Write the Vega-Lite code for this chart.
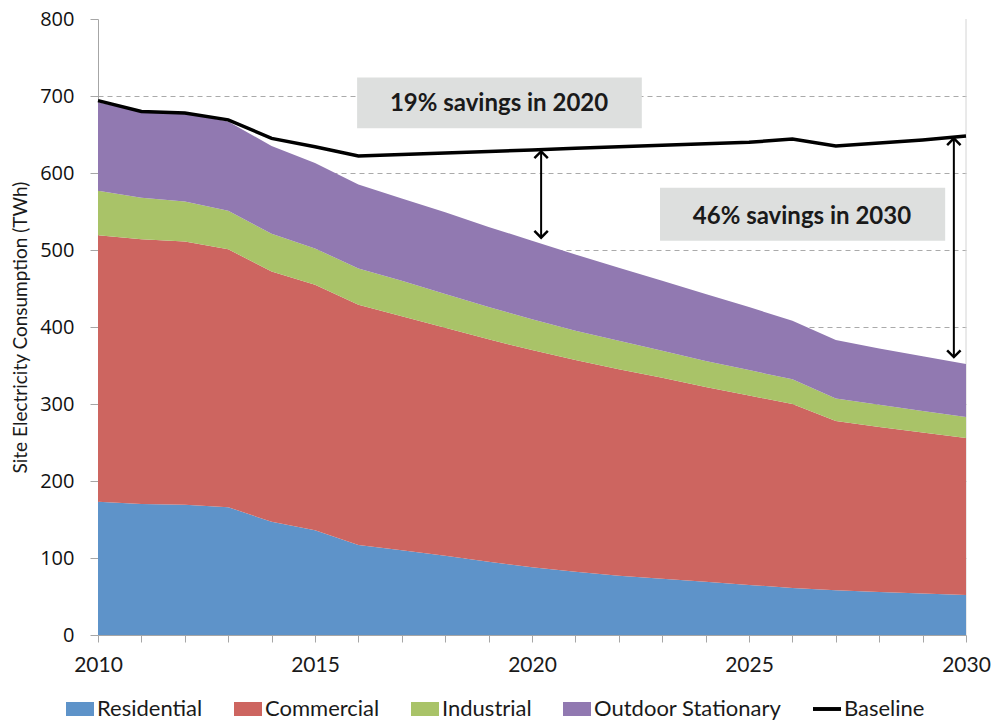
{
  "$schema": "https://vega.github.io/schema/vega-lite/v6.json",
  "autosize": {"type": "none"},
  "width": 868,
  "height": 616,
  "padding": {"left": 98, "top": 19, "right": 26, "bottom": 88},
  "background": "white",
  "config": {
    "view": {"stroke": null},
    "font": "Lato"
  },
  "datasets": {
    "energy": [
      {"year": 2010, "Residential": 173, "Commercial": 346, "Industrial": 58, "Outdoor Stationary": 115, "Baseline": 694},
      {"year": 2011, "Residential": 170, "Commercial": 344, "Industrial": 54, "Outdoor Stationary": 112, "Baseline": 680},
      {"year": 2012, "Residential": 169, "Commercial": 342, "Industrial": 52, "Outdoor Stationary": 115, "Baseline": 678},
      {"year": 2013, "Residential": 166, "Commercial": 335, "Industrial": 50, "Outdoor Stationary": 116, "Baseline": 669},
      {"year": 2014, "Residential": 147, "Commercial": 325, "Industrial": 49, "Outdoor Stationary": 114, "Baseline": 645},
      {"year": 2015, "Residential": 136, "Commercial": 319, "Industrial": 47, "Outdoor Stationary": 111, "Baseline": 634},
      {"year": 2016, "Residential": 117, "Commercial": 312, "Industrial": 47, "Outdoor Stationary": 109, "Baseline": 622},
      {"year": 2017, "Residential": 110, "Commercial": 304, "Industrial": 46, "Outdoor Stationary": 107, "Baseline": 624},
      {"year": 2018, "Residential": 103, "Commercial": 296, "Industrial": 44, "Outdoor Stationary": 106, "Baseline": 626},
      {"year": 2019, "Residential": 95, "Commercial": 289, "Industrial": 42, "Outdoor Stationary": 104, "Baseline": 628},
      {"year": 2020, "Residential": 88, "Commercial": 282, "Industrial": 40, "Outdoor Stationary": 102, "Baseline": 630},
      {"year": 2021, "Residential": 82, "Commercial": 275, "Industrial": 38, "Outdoor Stationary": 99, "Baseline": 632},
      {"year": 2022, "Residential": 77, "Commercial": 268, "Industrial": 37, "Outdoor Stationary": 95, "Baseline": 634},
      {"year": 2023, "Residential": 73, "Commercial": 261, "Industrial": 35, "Outdoor Stationary": 91, "Baseline": 636},
      {"year": 2024, "Residential": 69, "Commercial": 253, "Industrial": 34, "Outdoor Stationary": 87, "Baseline": 638},
      {"year": 2025, "Residential": 65, "Commercial": 246, "Industrial": 33, "Outdoor Stationary": 82, "Baseline": 640},
      {"year": 2026, "Residential": 61, "Commercial": 239, "Industrial": 32, "Outdoor Stationary": 76, "Baseline": 644},
      {"year": 2027, "Residential": 58, "Commercial": 220, "Industrial": 29, "Outdoor Stationary": 76, "Baseline": 635},
      {"year": 2028, "Residential": 56, "Commercial": 214, "Industrial": 29, "Outdoor Stationary": 73, "Baseline": 639},
      {"year": 2029, "Residential": 54, "Commercial": 209, "Industrial": 28, "Outdoor Stationary": 71, "Baseline": 643},
      {"year": 2030, "Residential": 52, "Commercial": 204, "Industrial": 27, "Outdoor Stationary": 69, "Baseline": 648}
    ],
    "notes": [
      {"label": "19% savings in 2020", "x1": 2015.97, "x2": 2022.53, "y1": 658, "y2": 724, "tx": 2019.24, "ty": 690},
      {"label": "46% savings in 2030", "x1": 2022.95, "x2": 2029.52, "y1": 512, "y2": 581, "tx": 2026.22, "ty": 543}
    ],
    "arrows": [
      {"x": 2020.21, "top": 628, "bottom": 516},
      {"x": 2029.72, "top": 645, "bottom": 361}
    ],
    "edge": [{"x": 2030, "y1": 0, "y2": 800}]
  },
  "layer": [
    {
      "data": {"name": "edge"},
      "mark": {"type": "rule", "color": "#d4d4d4", "strokeWidth": 1},
      "encoding": {
        "x": {"field": "x", "type": "quantitative", "scale": {"domain": [2010, 2030], "nice": false, "zero": false}},
        "y": {"field": "y1", "type": "quantitative"},
        "y2": {"field": "y2"}
      }
    },
    {
      "data": {"name": "energy"},
      "transform": [
        {"fold": ["Residential", "Commercial", "Industrial", "Outdoor Stationary"], "as": ["series", "value"]},
        {"calculate": "indexof(['Residential','Commercial','Industrial','Outdoor Stationary'], datum.series)", "as": "ord"}
      ],
      "mark": {"type": "area", "interpolate": "linear", "opacity": 1},
      "encoding": {
        "x": {
          "field": "year", "type": "quantitative",
          "scale": {"domain": [2010, 2030], "nice": false, "zero": false},
          "axis": {
            "title": null,
            "values": [2010, 2011, 2012, 2013, 2014, 2015, 2016, 2017, 2018, 2019, 2020, 2021, 2022, 2023, 2024, 2025, 2026, 2027, 2028, 2029, 2030],
            "labelExpr": "datum.value % 5 === 0 ? datum.value : ''",
            "format": "d",
            "grid": false,
            "domainColor": "#a6a6a6",
            "tickColor": "#a6a6a6",
            "tickSize": 7,
            "labelFont": "Lato",
            "labelFontSize": 21,
            "labelColor": "#1a1a1a",
            "labelPadding": 12,
            "labelOverlap": false,
            "labelFlush": false
          }
        },
        "y": {
          "field": "value", "type": "quantitative", "stack": "zero",
          "scale": {"domain": [0, 800], "nice": false},
          "axis": {
            "title": "Site Electricity Consumption (TWh)",
            "values": [0, 100, 200, 300, 400, 500, 600, 700, 800],
            "grid": true,
            "gridDash": [5, 4],
            "gridColor": "#aaaaaa",
            "gridOpacity": {"condition": {"test": "datum.value === 0 || datum.value === 800", "value": 0}, "value": 1},
            "domainColor": "#a6a6a6",
            "tickColor": "#a6a6a6",
            "tickSize": 8,
            "labelFont": "Open Sans",
            "labelFontSize": 20,
            "labelColor": "#111111",
            "labelPadding": 16,
            "titleFont": "Lato",
            "titleFontSize": 19,
            "titleFontWeight": "normal",
            "titleColor": "#1a1a1a",
            "titlePadding": 9
          }
        },
        "color": {
          "field": "series", "type": "nominal",
          "scale": {
            "domain": ["Residential", "Commercial", "Industrial", "Outdoor Stationary", "Baseline"],
            "range": ["#5E93C9", "#CD6560", "#A9C368", "#9179B1", "#000000"]
          },
          "legend": {
            "orient": "none",
            "legendX": -32,
            "legendY": 676,
            "direction": "horizontal",
            "title": null,
            "symbolType": "M-1,-0.5H1V0.5H-1Z",
            "symbolSize": 784,
            "symbolStrokeWidth": 0,
            "symbolOpacity": 1,
            "labelFont": "Lato",
            "labelFontSize": 22,
            "labelColor": "#1a1a1a",
            "labelOffset": 3,
            "columnPadding": 31,
            "labelLimit": 400,
            "encode": {
              "symbols": {
                "update": {
                  "shape": [
                    {"test": "datum.value === 'Baseline'", "value": "M-1,-0.14H1V0.14H-1Z"},
                    {"value": "M-1,-0.5H1V0.5H-1Z"}
                  ],
                  "fill": {"scale": "color", "field": "value"},
                  "stroke": {"value": "transparent"},
                  "opacity": {"value": 1}
                }
              }
            }
          }
        },
        "order": {"field": "ord", "type": "quantitative"}
      }
    },
    {
      "data": {"name": "energy"},
      "transform": [
        {"fold": ["Baseline"], "as": ["series", "value"]}
      ],
      "mark": {"type": "line", "strokeWidth": 3.5, "interpolate": "linear"},
      "encoding": {
        "x": {"field": "year", "type": "quantitative"},
        "y": {"field": "value", "type": "quantitative"},
        "color": {"field": "series", "type": "nominal"}
      }
    },
    {
      "data": {"name": "notes"},
      "mark": {"type": "rect", "color": "#DDDFDE"},
      "encoding": {
        "x": {"field": "x1", "type": "quantitative"},
        "x2": {"field": "x2"},
        "y": {"field": "y1", "type": "quantitative"},
        "y2": {"field": "y2"}
      }
    },
    {
      "data": {"name": "notes"},
      "mark": {"type": "text", "font": "Lato", "fontSize": 24, "fontWeight": "bold", "color": "#1a1a1a", "align": "center", "baseline": "middle"},
      "encoding": {
        "x": {"field": "tx", "type": "quantitative"},
        "y": {"field": "ty", "type": "quantitative"},
        "text": {"field": "label"}
      }
    },
    {
      "data": {"name": "arrows"},
      "mark": {"type": "rule", "color": "#000000", "strokeWidth": 2},
      "encoding": {
        "x": {"field": "x", "type": "quantitative"},
        "y": {"field": "top", "type": "quantitative"},
        "y2": {"field": "bottom"}
      }
    },
    {
      "data": {"name": "arrows"},
      "mark": {"type": "point", "shape": "M-1,1L0,0L1,1", "size": 180, "filled": false, "stroke": "#000000", "strokeWidth": 2.5, "opacity": 1},
      "encoding": {
        "x": {"field": "x", "type": "quantitative"},
        "y": {"field": "top", "type": "quantitative"}
      }
    },
    {
      "data": {"name": "arrows"},
      "mark": {"type": "point", "shape": "M-1,-1L0,0L1,-1", "size": 180, "filled": false, "stroke": "#000000", "strokeWidth": 2.5, "opacity": 1},
      "encoding": {
        "x": {"field": "x", "type": "quantitative"},
        "y": {"field": "bottom", "type": "quantitative"}
      }
    }
  ]
}
